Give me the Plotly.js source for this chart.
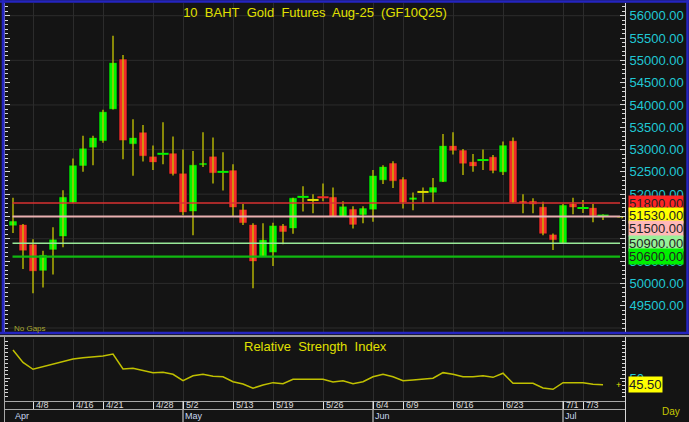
<!DOCTYPE html>
<html>
<head>
<meta charset="utf-8">
<script src="https://cdn.plot.ly/plotly-3.0.1.min.js"></script>
<style>html,body{margin:0;padding:0;background:#141414;}#chart{width:689px;height:422px;}</style>
</head>
<body>
<div id="chart"></div>
<script>
// ---- data (trading-day index 0..59, 3 Apr .. 4 Jul 2025) ----
const openP  = [51290,51320,50880,50280,50750,51050,51810,52630,53040,53190,53900,55030,53120,53390,52850,52890,52920,52470,51610,52650,52850,52490,52540,51660,51320,50600,50690,51300,51230,51930,51870,51940,51940,51490,51670,51530,51650,52310,52700,52340,51870,52050,52030,52270,53090,52990,52730,52750,52840,52490,53200,51850,51850,51720,51100,50900,51790,51680,51700,51510];
const highP  = [51920,51330,50990,50730,51260,52090,52800,53310,53310,53890,55550,55120,53680,53550,53090,53610,53290,53000,52970,53390,53270,52940,52670,51780,51350,51350,51360,51330,51920,52180,52000,52240,52150,51840,51730,51730,52540,52650,52740,52380,52040,52150,52360,53350,53390,53010,52900,53000,52880,53180,53270,52000,51910,51830,51120,51780,51920,51870,51780,51550];
const lowP   = [51130,50320,49780,49910,50200,50810,51800,52500,52650,53150,53900,52780,52410,52730,52540,52670,52420,51530,51080,52610,52240,52080,51490,51310,49890,50600,50390,50880,51110,51610,51570,51840,51490,51490,51230,51350,51380,52230,52140,51680,51640,51810,51810,52270,52890,52430,52500,52540,52470,52430,51810,51570,51570,51080,50750,50900,51550,51580,51370,51420];
const closeP = [51400,50730,50270,50640,50990,51940,52650,53030,53270,53850,54950,53200,53270,52850,52710,52920,52450,51590,52660,52700,52470,52510,51700,51350,50490,50980,51300,51150,51920,51950,51870,51920,51490,51730,51310,51690,52420,52620,52290,51810,51930,52050,52160,53090,52970,52680,52620,52780,52520,53100,51810,51790,51770,51110,50970,51760,51700,51700,51510,51530];
const rsiVals = [69.1,60.7,56.0,57.7,59.4,61.4,63.0,63.9,64.5,65.0,66.4,56.2,56.7,55.0,53.7,53.9,52.6,48.2,51.6,52.6,51.2,50.9,47.5,46.0,43.1,45.3,46.9,46.2,49.2,49.2,49.2,49.2,47.3,48.2,46.2,47.5,50.9,52.6,50.9,48.2,48.7,49.2,49.9,53.7,52.6,50.9,50.9,51.6,50.5,53.3,46.5,46.5,46.5,43.3,42.4,46.9,46.9,46.9,45.8,45.5];
const tickIdx    = [2,6,9,14,17,22,26,31,36,39,44,49,55,57];
const tickLabels = ['4/8','4/16','4/21','4/28','5/2','5/13','5/19','5/26','6/4','6/9','6/16','6/23','7/1','7/3'];
const monthIdx    = [0,17,36,55];
const monthLabels = ['Apr','May','Jun','Jul'];
const priceTicks  = [49500,50000,50500,51000,51500,52000,52500,53000,53500,54000,54500,55000,55500,56000];
const levelVals   = [51800,51500,50900,50600];
const levelLabels = ['51800.00','51500.00','50900.00','50600.00'];
const priceGrid   = [49000,50000,51000,52000,53000,54000,55000,56000];
const chartTitle  = '10\u00a0 BAHT\u00a0 Gold\u00a0 Futures\u00a0 Aug-25\u00a0 (GF10Q25)';
const rsiTitle    = 'Relative\u00a0 Strength\u00a0 Index';

// ---- styles ----
const levelLineColors = ['#d83030','#e8b0b0','#98e898','#10b810'];
const levelLineWidths = [1.5,2,1.5,2.2];
const levelBoxColors  = ['#ff2424','#ffb8b8','#98f098','#00f000'];
const levelShift      = [0,-12,0,0];
const W = 689, H = 422;
const px = v => v / W, py = v => 1 - v / H;
const FONT = 'Liberation Sans, Arial, sans-serif';
const NARROW = 'Liberation Sans Narrow, Arial Narrow, Liberation Sans, Arial, sans-serif';
const GREEN = '#00f400', RED = '#f42a2a', YEL = '#e0e000';

const n = openP.length;
const idx = openP.map((_, i) => i);
const wx = [], wy = [];
idx.forEach(i => { wx.push(i, i, null); wy.push(lowP[i], highP[i], null); });
const bodyCol = idx.map(i => closeP[i] > openP[i] ? GREEN : (closeP[i] < openP[i] ? RED : YEL));
const bodyBase = idx.map(i => Math.min(openP[i], closeP[i]));
const bodySize = idx.map(i => Math.abs(closeP[i] - openP[i]));
const dojiY = idx.map(i => bodySize[i] < 50 ? (openP[i] + closeP[i]) / 2 : null);

const traces = [
  {type:'scatter', mode:'lines', x: wx, y: wy, xaxis:'x', yaxis:'y',
   line:{color:'#c8c800', width:1.3}, hoverinfo:'skip', showlegend:false},
  {type:'bar', x: idx, base: bodyBase, y: bodySize, width: 0.8, xaxis:'x', yaxis:'y',
   marker:{color: bodyCol, line:{color:'#0c0c0c', width:0.6}}, hoverinfo:'skip', showlegend:false},
  {type:'scatter', mode:'markers', x: idx, y: dojiY, xaxis:'x', yaxis:'y',
   marker:{symbol:'line-ew', size:8, color: bodyCol, line:{color: bodyCol, width:2}}, hoverinfo:'skip', showlegend:false},
  {type:'scatter', mode:'lines', x: idx, y: rsiVals, xaxis:'x', yaxis:'y2',
   line:{color:'#c0c000', width:1.5}, hoverinfo:'skip', showlegend:false}
];

const shapes = [];
priceGrid.forEach(v => shapes.push({type:'line', layer:'below', xref:'paper', yref:'y',
  x0: px(5), x1: px(625), y0: v, y1: v, line:{color:'#2c2c2c', width:1}}));
levelVals.forEach((v, k) => shapes.push({type:'line', xref:'x', yref:'y', x0:-0.05, x1:60.7, y0:v, y1:v,
  line:{color: levelLineColors[k], width: levelLineWidths[k]}}));
monthIdx.slice(1).forEach(m => shapes.push({type:'line', xref:'x', yref:'paper', x0:m, x1:m, y0:py(401), y1:py(422),
  line:{color:'#e0e0e0', width:1}}));
const frame = [
  [0, 1.5, 689, 1.5, '#2424c0', 2.5],
  [3.2, 0, 3.2, 334, '#2424c0', 3],
  [687.5, 0, 687.5, 334, '#2424c0', 2.5],
  [0, 333, 689, 333, '#2424c0', 2.5],
  [0, 336, 689, 336, '#c8c8c8', 1.5],
  [5, 409.5, 625, 409.5, '#a8a8a8', 1],
  [625.5, 337, 625.5, 422, '#d8d8d8', 1],
  [4.5, 337, 4.5, 422, '#a8a8a8', 1]
];
frame.forEach(f => shapes.push({type:'line', xref:'paper', yref:'paper', x0:px(f[0]), y0:py(f[1]), x1:px(f[2]), y1:py(f[3]),
  line:{color:f[4], width:f[5]}}));

const annotations = [];
tickIdx.forEach((t, k) => annotations.push({xref:'x', yref:'paper', x:t, y:py(405.3), xanchor:'left', yanchor:'middle',
  xshift:1, text: tickLabels[k], showarrow:false, font:{family:NARROW, size:9, color:'#dcdcdc'}}));
monthIdx.forEach((m, k) => annotations.push({xref:'x', yref:'paper', x:m, y:py(415.5), xanchor:'left', yanchor:'middle',
  xshift:0, text: monthLabels[k], showarrow:false, font:{family:NARROW, size:9, color:'#c8d8f0'}}));
const lastClose = closeP[n - 1];
const boxes = levelVals.map((v, k) => ({v, t: levelLabels[k], c: levelBoxColors[k], s: levelShift[k]}));
boxes.splice(1, 0, {v: lastClose, t: lastClose.toFixed(2), c:'#ffff00', s:0});
boxes.forEach(b => annotations.push({xref:'paper', yref:'y', x:px(627.5), y:b.v, xanchor:'left', yanchor:'middle',
  yshift:b.s, text:b.t, showarrow:false, bgcolor:b.c, borderpad:0, font:{family:FONT, size:13, color:'#222222'}}));
annotations.push({xref:'paper', yref:'y', x:px(620), y:lastClose, xanchor:'center', yanchor:'middle', text:'→',
  showarrow:false, font:{family:FONT, size:10, color:'#e8e800'}});
const lastRsi = rsiVals[n - 1];
annotations.push({xref:'paper', yref:'y2', x:px(627.5), y:lastRsi, xanchor:'left', yanchor:'middle', text:lastRsi.toFixed(2),
  showarrow:false, bgcolor:'#ffff00', borderpad:0, font:{family:FONT, size:13, color:'#222222'}});
annotations.push({xref:'paper', yref:'y2', x:px(618), y:lastRsi, xanchor:'center', yanchor:'middle', text:'+',
  showarrow:false, font:{family:FONT, size:9, color:'#e8e800'}});
annotations.push({xref:'paper', yref:'paper', x:px(315), y:py(346.5), xanchor:'center', yanchor:'middle', text:rsiTitle,
  showarrow:false, font:{family:FONT, size:13, color:YEL}});
annotations.push({xref:'paper', yref:'paper', x:px(12), y:py(328.5), xanchor:'left', yanchor:'middle', text:'No Gaps',
  showarrow:false, font:{family:FONT, size:8, color:'#a8a830'}});
annotations.push({xref:'paper', yref:'paper', x:px(660), y:py(411), xanchor:'left', yanchor:'middle', text:'Day',
  showarrow:false, font:{family:NARROW, size:10, color:'#c8c800'}});

const layout = {
  width: W, height: H,
  margin:{l:0, r:0, t:0, b:0, pad:0},
  paper_bgcolor:'#141414', plot_bgcolor:'#141414',
  font:{family:FONT, color:'#20c8d4'},
  showlegend:false,
  title:{text: chartTitle, x: px(315), xanchor:'center', y: py(12), yanchor:'middle', font:{family:FONT, size:13, color:YEL}},
  xaxis:{domain:[px(5), px(625)], range:[-0.8, 61.2], anchor:'y2', tickmode:'array', tickvals: tickIdx,
    showticklabels:false, ticks:'outside', ticklen:8, tickcolor:'#e0e0e0', tickwidth:1,
    showgrid:true, gridcolor:'#2c2c2c', gridwidth:1, zeroline:false, showline:true, linecolor:'#a8a8a8', linewidth:1},
  yaxis:{domain:[py(333), py(3)], range:[48888, 56285], anchor:'x', side:'right', tickmode:'array', tickvals: priceTicks,
    ticktext: priceTicks.map(v => v.toFixed(2)),
    tickfont:{family:FONT, size:13, color:'#20c8d4'}, ticks:'inside', ticklen:5, tickcolor:'#d8d8d8',
    minor:{tickmode:'linear', tick0:0, dtick:100, ticks:'inside', ticklen:3, tickcolor:'#d8d8d8', showgrid:false},
    showgrid:false, zeroline:false, showline:true, linecolor:'#d8d8d8', mirror:'ticks', ticklabelstandoff:1},
  yaxis2:{domain:[py(401), py(339)], range:[34.41, 76.59], anchor:'x', side:'right', tickmode:'array', tickvals:[50], ticktext:['50'],
    tickfont:{family:FONT, size:13, color:'#20c8d4'}, ticks:'inside', ticklen:5, tickcolor:'#d8d8d8',
    minor:{tickmode:'linear', tick0:0, dtick:2.5, ticks:'inside', ticklen:3, tickcolor:'#d8d8d8', showgrid:false},
    showgrid:false, zeroline:false, showline:true, linecolor:'#d8d8d8', mirror:'ticks', ticklabelstandoff:1},
  shapes, annotations
};

Plotly.newPlot('chart', traces, layout, {staticPlot:true, displayModeBar:false});
</script>
</body>
</html>
